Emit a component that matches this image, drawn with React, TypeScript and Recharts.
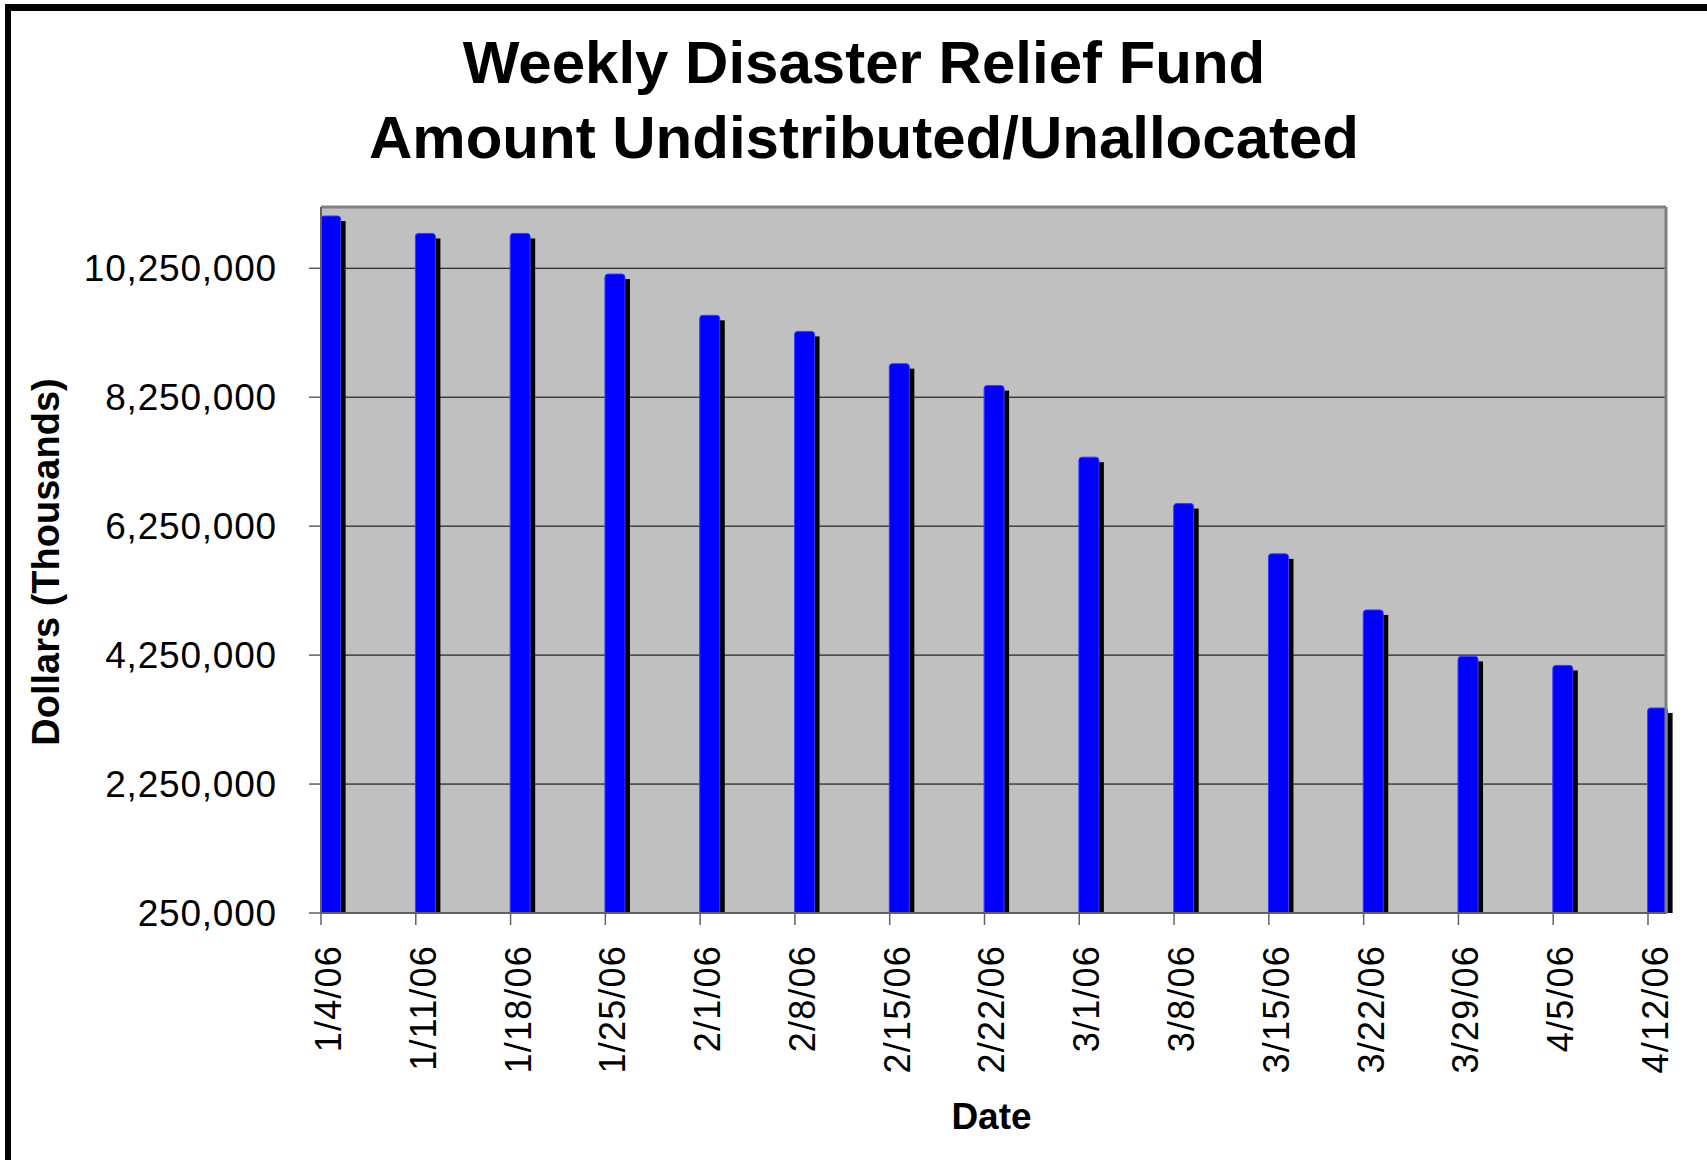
import React from "react";
import {
  BarChart,
  Bar,
  XAxis,
  YAxis,
  CartesianGrid,
  ReferenceLine,
} from "recharts";

/* Weekly Disaster Relief Fund -- amount undistributed / unallocated */

const categories = [
  "1/4/06",
  "1/11/06",
  "1/18/06",
  "1/25/06",
  "2/1/06",
  "2/8/06",
  "2/15/06",
  "2/22/06",
  "3/1/06",
  "3/8/06",
  "3/15/06",
  "3/22/06",
  "3/29/06",
  "4/5/06",
  "4/12/06",
];

const amounts = [
  11060000, 10790000, 10790000, 10160000, 9520000, 9270000, 8770000, 8430000,
  7320000, 6600000, 5820000, 4950000, 4230000, 4090000, 3430000,
];

const yTicks = [250000, 2250000, 4250000, 6250000, 8250000, 10250000];
const yDomain: [number, number] = [250000, 11200000];
const xTicks = categories.map((_, i) => i);
const xMax = 14.19;

const FONT = '"Liberation Sans", Arial, Helvetica, sans-serif';

const data = categories.map((date, i) => ({ idx: i, date, amount: amounts[i] }));

// blue bar with a black drop shadow, left edge sitting on the date tick
const ShadowBar = (props: any) => {
  const { x, y, width, height } = props;
  if (!height || height <= 0) return null;
  const left = x + width / 2;
  const w = width;
  const r = 3;
  const bottom = y + height;
  const d = `M${left},${bottom} L${left},${y + r} Q${left},${y} ${left + r},${y} L${
    left + w - r
  },${y} Q${left + w},${y} ${left + w},${y + r} L${left + w},${bottom} Z`;
  return (
    <g>
      <rect x={left + 5} y={y + 5} width={w} height={height - 5} fill="#000000" />
      <path d={d} fill="#0000FF" stroke="#3a3aff" strokeWidth={1} />
    </g>
  );
};

const DateTick = (props: any) => {
  const { x, y, payload } = props;
  return (
    <text
      transform={`translate(${x + 20},${y}) rotate(-90)`}
      textAnchor="end"
      fontFamily={FONT}
      fontSize={36}
      letterSpacing={1.2}
      fill="#000"
    >
      {categories[payload.value]}
    </text>
  );
};

export default function App() {
  return (
    <div
      style={{
        position: "absolute",
        left: 0,
        top: 0,
        width: 1707,
        height: 1160,
        background: "#ffffff",
        fontFamily: FONT,
      }}
    >
      {/* frame: only top and left edges show */}
      <div
        style={{
          position: "absolute",
          left: 5,
          top: 4,
          width: 1702,
          height: 1156,
          borderTop: "7px solid #000",
          borderLeft: "6px solid #000",
          boxSizing: "border-box",
        }}
      />

      <div
        style={{
          position: "absolute",
          left: 364,
          top: 25,
          width: 1000,
          textAlign: "center",
          fontSize: 60,
          fontWeight: "bold",
          lineHeight: "75px",
          color: "#000",
        }}
      >
        Weekly Disaster Relief Fund
        <br />
        Amount Undistributed/Unallocated
      </div>

      <div style={{ position: "absolute", left: 0, top: 0 }}>
        <BarChart
          width={1707}
          height={1160}
          data={data}
          margin={{ top: 207, right: 41, bottom: 17, left: 0 }}
          barSize={20}
        >
          <CartesianGrid
            horizontal
            vertical={false}
            fill="#C0C0C0"
            stroke="#000000"
            strokeWidth={1}
          />
          <XAxis
            type="number"
            dataKey="idx"
            domain={[0, xMax]}
            ticks={xTicks}
            interval={0}
            height={230}
            tickSize={12}
            tickMargin={20}
            axisLine={{ stroke: "#606060", strokeWidth: 2 }}
            tickLine={{ stroke: "#606060", strokeWidth: 1.5 }}
            tick={<DateTick />}
            label={{
              content: (p: any) => {
                const vb = p.viewBox;
                return (
                  <text
                    x={vb.x + vb.width / 2 - 2}
                    y={vb.y + 216}
                    textAnchor="middle"
                    fontFamily={FONT}
                    fontSize={37}
                    fontWeight="bold"
                    fill="#000"
                  >
                    Date
                  </text>
                );
              },
            }}
          />
          <YAxis
            type="number"
            domain={yDomain}
            ticks={yTicks}
            interval={0}
            width={321}
            tickSize={12}
            tickMargin={32}
            axisLine={{ stroke: "#606060", strokeWidth: 2 }}
            tickLine={{ stroke: "#606060", strokeWidth: 1.5 }}
            tick={{ fill: "#000", fontSize: 37, fontFamily: FONT, letterSpacing: 0.8 }}
            tickFormatter={(v: number) => v.toLocaleString("en-US")}
            label={{
              content: (p: any) => {
                const vb = p.viewBox;
                const cx = 46;
                const cy = vb.y + vb.height / 2 + 2;
                return (
                  <text
                    transform={`translate(${cx},${cy}) rotate(-90)`}
                    textAnchor="middle"
                    dominantBaseline="central"
                    fontFamily={FONT}
                    fontSize={38}
                    fontWeight="bold"
                    fill="#000"
                  >
                    Dollars (Thousands)
                  </text>
                );
              },
            }}
          />
          <ReferenceLine y={yDomain[1]} stroke="#808080" strokeWidth={3} />
          <ReferenceLine x={xMax} stroke="#808080" strokeWidth={3} />
          <Bar
            dataKey="amount"
            shape={<ShadowBar />}
            isAnimationActive={false}
          />
        </BarChart>
      </div>
    </div>
  );
}
